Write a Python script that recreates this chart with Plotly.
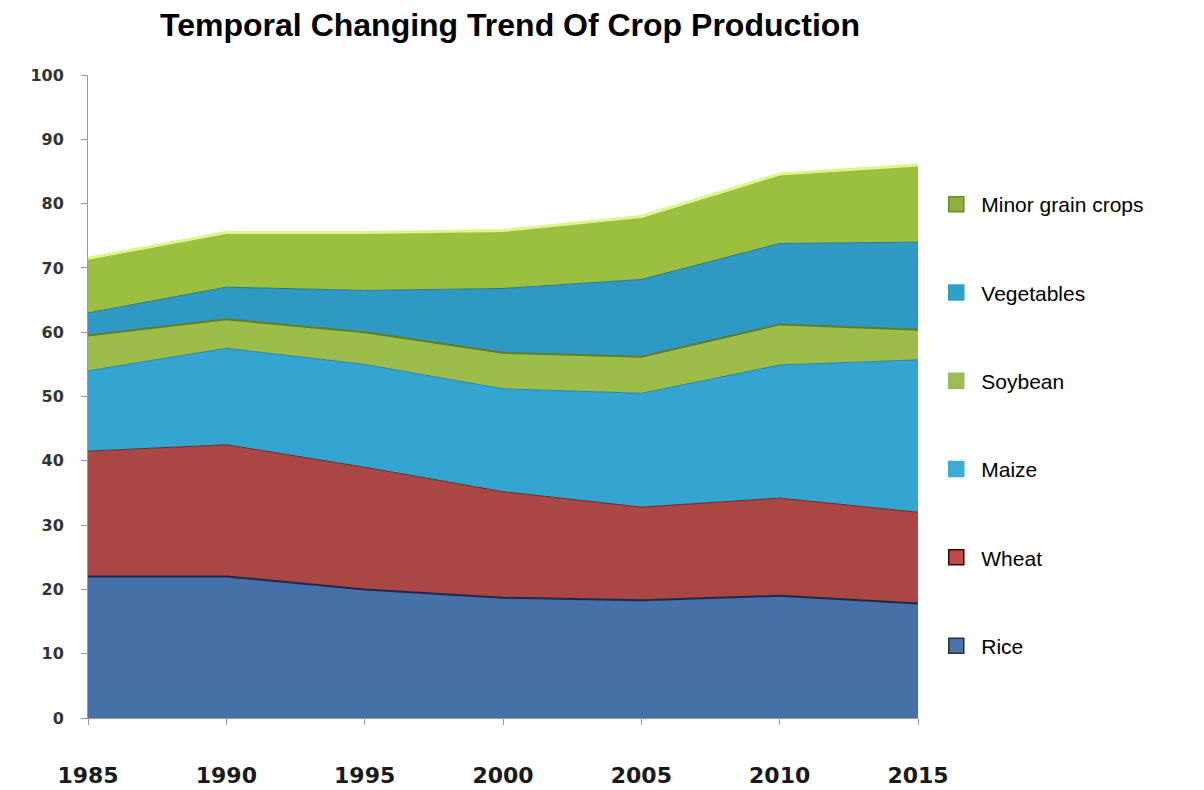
import plotly.graph_objects as go

years = [1985, 1990, 1995, 2000, 2005, 2010, 2015]
rice = [22.0, 22.0, 20.0, 18.7, 18.3, 19.0, 17.8]
wheat = [19.5, 20.5, 19.0, 16.5, 14.5, 15.2, 14.2]
maize = [12.5, 15.0, 16.0, 16.0, 17.7, 20.7, 23.7]
soybean = [5.5, 4.5, 5.0, 5.6, 5.7, 6.3, 4.7]
vegetables = [3.5, 5.0, 6.5, 10.0, 12.0, 12.6, 13.6]
minor_grain = [8.5, 8.5, 9.0, 9.0, 9.8, 10.8, 12.0]

series_names = ["Rice", "Wheat", "Maize", "Soybean", "Vegetables", "Minor grain crops"]
series_values = [rice, wheat, maize, soybean, vegetables, minor_grain]
fill_colors = ["#4671A8", "#AA4643", "#34A5D1", "#9DBD4B", "#2E9AC4", "#9BBF3F"]
line_colors = ["#1F2A4A", "#6E2A28", "#2A86A8", "#5E7F2A", "#24789A", "#DDF58A"]
line_widths = [2, 1, 1, 2, 1, 3]
legend_fill = ["#4A72A8", "#C04A48", "#3AADD4", "#9CBB59", "#2EA0C8", "#8DB13A"]
legend_edge = ["#2A2F45", "#2A0F0F", "#3AADD4", "#9CBB59", "#2EA0C8", "#6E8A2E"]

y_ticks = [0, 10, 20, 30, 40, 50, 60, 70, 80, 90, 100]

fig = go.Figure()
for name, vals, fc, lc, lw in zip(series_names, series_values, fill_colors, line_colors, line_widths):
    fig.add_trace(go.Scatter(
        x=years, y=vals, name=name, mode="lines",
        stackgroup="one", fillcolor=fc,
        line=dict(color=lc, width=lw),
        showlegend=False,
    ))

# legend entries (square swatches), top to bottom reversed from stacking order
n = len(series_names)
for i, (name, lf, le) in enumerate(zip(series_names, legend_fill, legend_edge)):
    fig.add_trace(go.Scatter(
        x=[None], y=[None], name=name, mode="markers",
        marker=dict(symbol="square", size=15, color=lf, line=dict(color=le, width=1.5)),
        legendgroup=name, legendrank=n - i, showlegend=True,
    ))

fig.update_layout(
    width=1204, height=790,
    paper_bgcolor="white", plot_bgcolor="white",
    margin=dict(l=88, r=286, t=75, b=72, autoexpand=False),
    title=dict(text="<b>Temporal Changing Trend Of Crop Production</b>",
               x=510 / 1204, xanchor="center", y=1 - 25 / 790, yanchor="middle",
               font=dict(family="Liberation Sans, Arial, sans-serif", size=32, color="black")),
    showlegend=True,
    legend=dict(x=1.016, xanchor="left", y=0.8305, yanchor="top",
                traceorder="grouped", tracegroupgap=58, itemwidth=40,
                font=dict(family="Liberation Sans, Arial, sans-serif", size=21, color="black"),
                bgcolor="rgba(0,0,0,0)"),
    xaxis=dict(range=[1985, 2015], tickvals=years, ticktext=[str(y) for y in years],
               automargin=False,
               showgrid=False, zeroline=False, showline=True, linecolor="#9A9A9A",
               ticks="outside", ticklen=6, tickcolor="#9A9A9A", ticklabelstandoff=32,
               tickfont=dict(family="DejaVu Sans, Verdana, sans-serif", size=22, color="#1a1a1a", weight="bold")),
    yaxis=dict(range=[0, 100], tickvals=y_ticks, showgrid=False, zeroline=False,
               automargin=False,
               showline=True, linecolor="#9A9A9A", ticks="outside", ticklen=6,
               tickcolor="#9A9A9A", ticklabelstandoff=14,
               tickfont=dict(family="DejaVu Sans, Verdana, sans-serif", size=16, color="#333333", weight="bold")),
)

fig.write_html("out.html")
